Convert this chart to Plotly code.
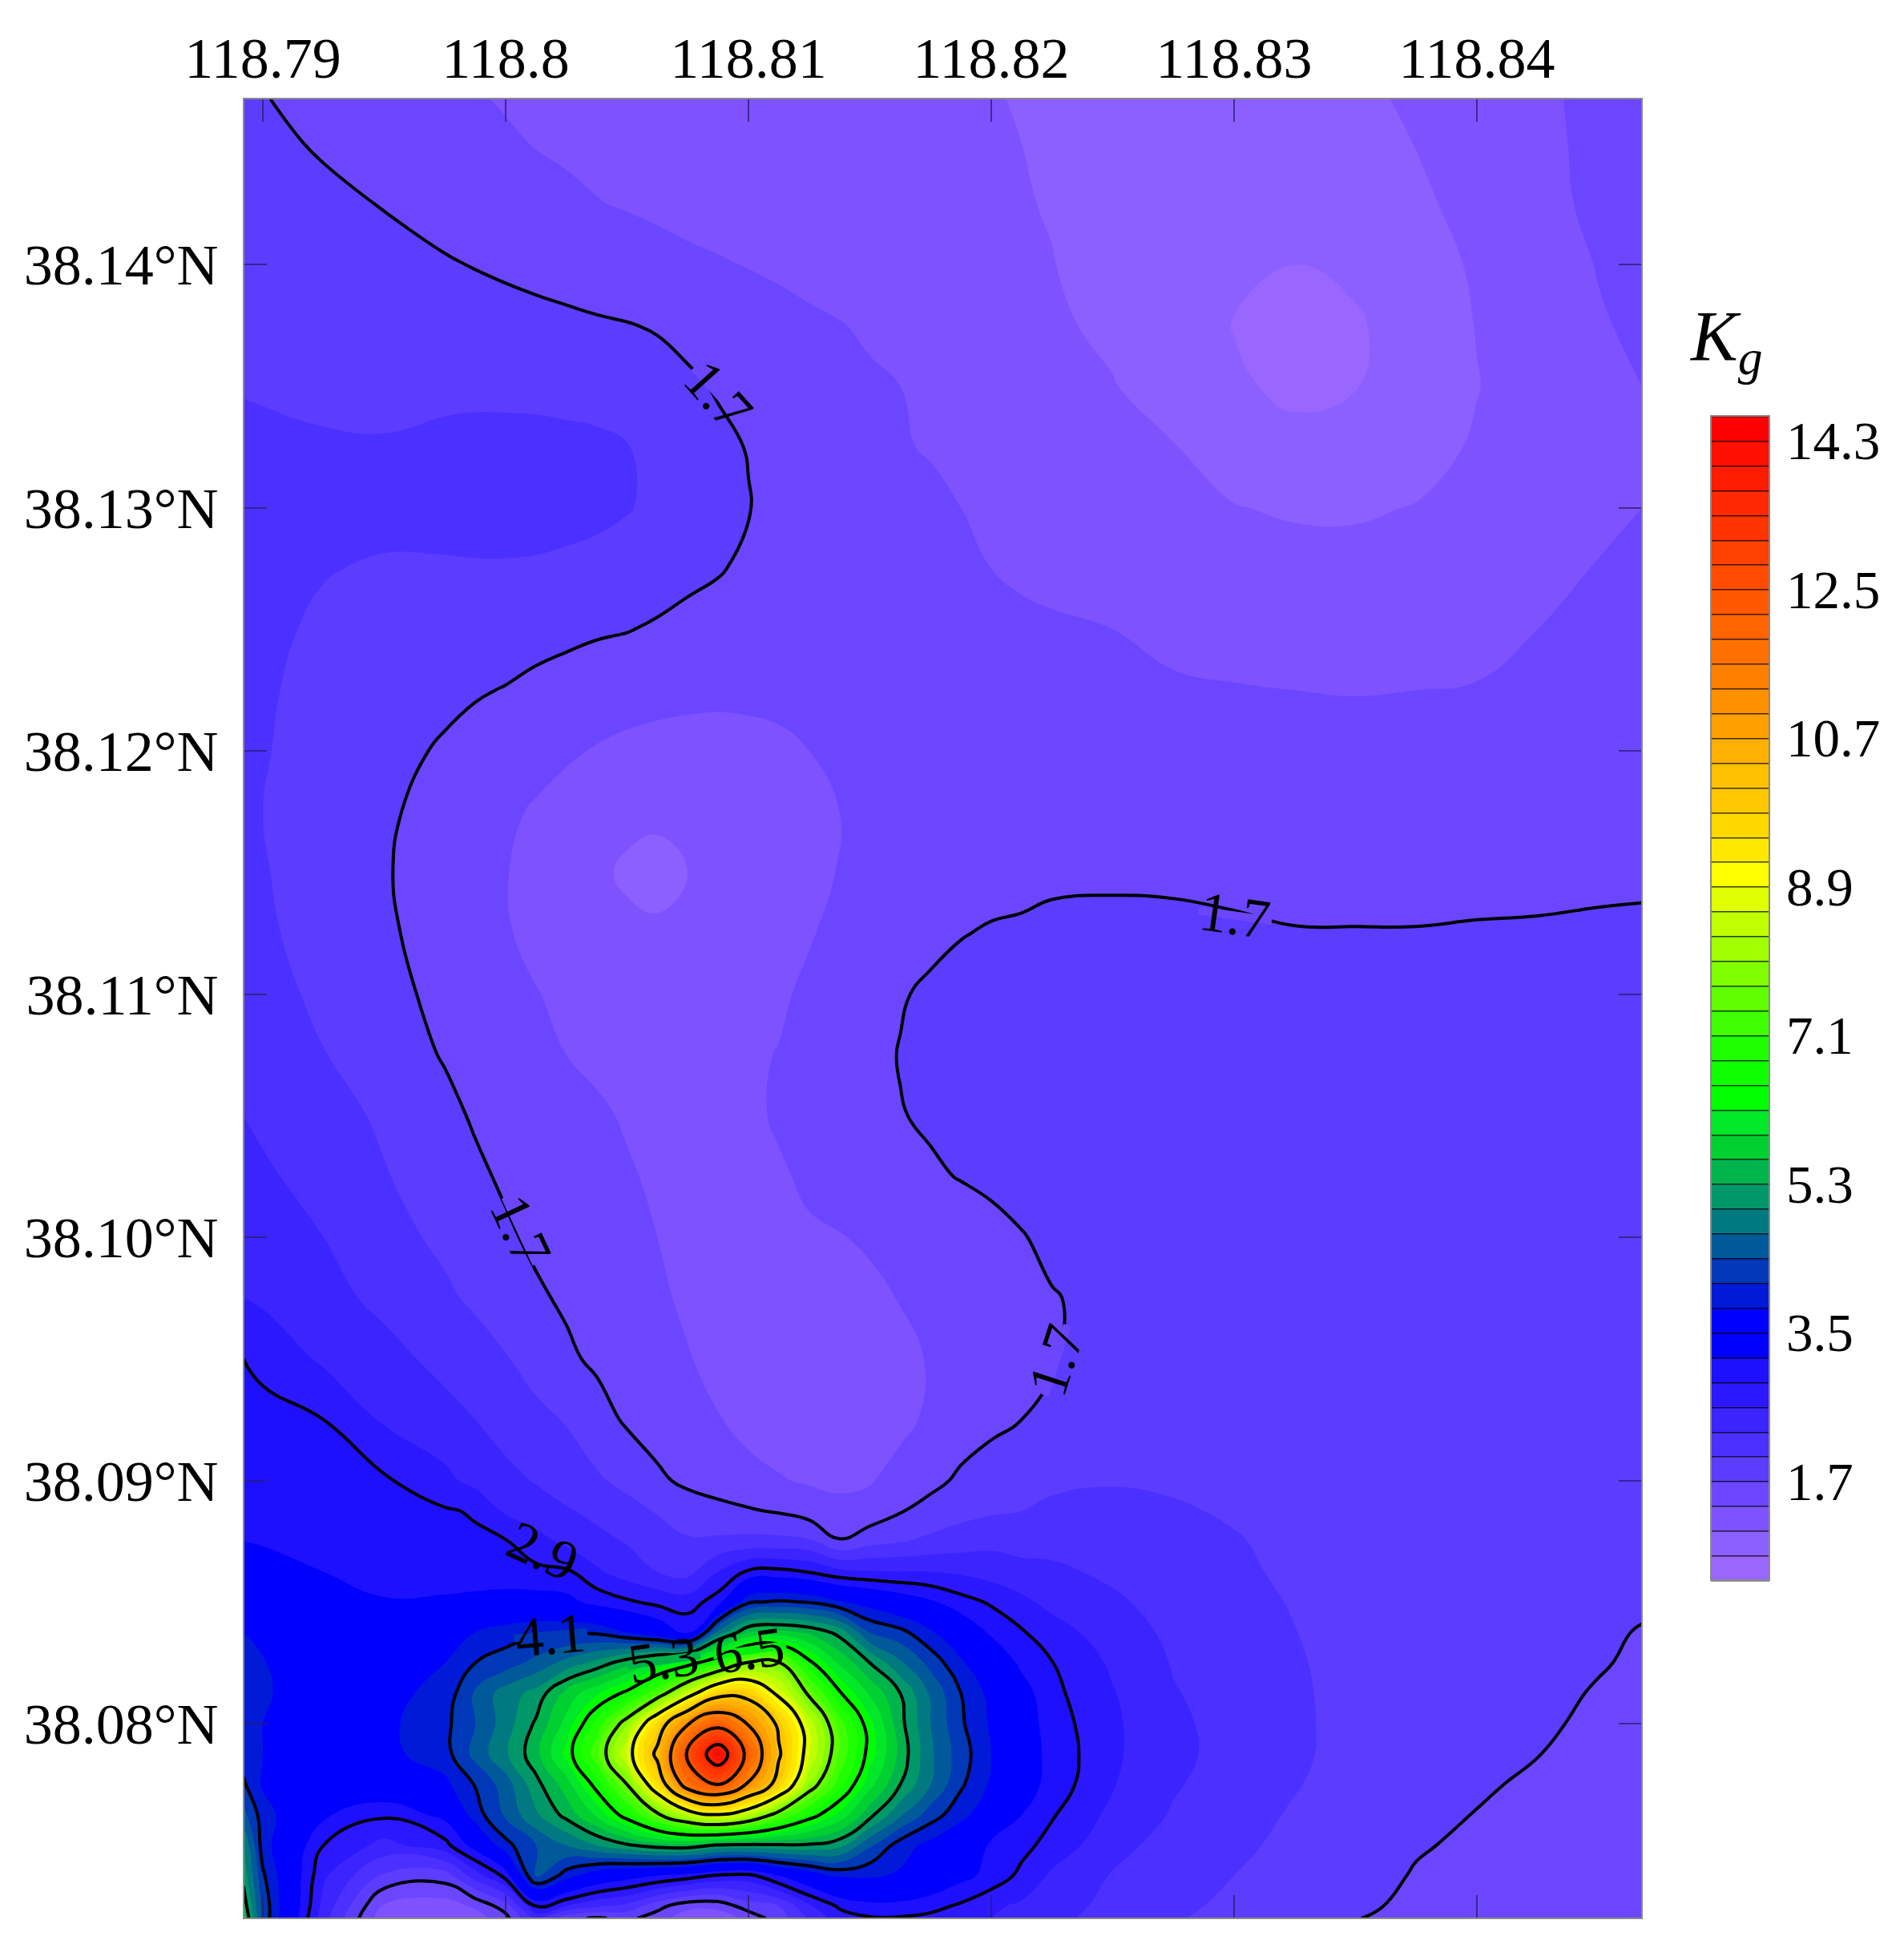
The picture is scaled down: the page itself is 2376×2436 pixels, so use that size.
import math
import plotly.graph_objects as go

W, H = 2376, 2436
FONT = "Liberation Serif"

lon_ticks = [118.79, 118.80, 118.81, 118.82, 118.83, 118.84]
lon_labels = ["118.79", "118.8", "118.81", "118.82", "118.83", "118.84"]
lat_ticks = [38.14, 38.13, 38.12, 38.11, 38.10, 38.09, 38.08]
lat_labels = ["38.14°N", "38.13°N", "38.12°N", "38.11°N", "38.10°N", "38.09°N", "38.08°N"]
bar_ticks = [14.3, 12.5, 10.7, 8.9, 7.1, 5.3, 3.5, 1.7]
bar_labels = ["14.3", "12.5", "10.7", "8.9", "7.1", "5.3", "3.5", "1.7"]

lon = [118.7892, 118.79, 118.7925, 118.795, 118.7975, 118.79875, 118.80, 118.80125, 118.8025, 118.80375,
       118.805, 118.80625, 118.8075, 118.80875, 118.81, 118.81125, 118.8125, 118.81375, 118.815, 118.81625,
       118.8175, 118.81875, 118.82, 118.82125, 118.8225, 118.825, 118.8275, 118.83, 118.8325, 118.835,
       118.8375, 118.84, 118.8425, 118.845, 118.8468]
lat = [38.1468, 38.145, 38.1425, 38.14, 38.1375, 38.135, 38.1325, 38.13, 38.1275, 38.125,
       38.1225, 38.12, 38.1175, 38.115, 38.1125, 38.11, 38.1075, 38.105, 38.1025, 38.10,
       38.0975, 38.095, 38.0925, 38.09, 38.08875, 38.0875, 38.08625, 38.085, 38.08375, 38.0825,
       38.08125, 38.08, 38.07875, 38.0775, 38.07625, 38.075, 38.07375, 38.0725, 38.072]

kg = [
 [1.73,1.71,1.63,1.55,1.47,1.42,1.38,1.35,1.33,1.31,1.29,1.27,1.26,1.24,1.23,1.21,1.2,1.18,1.16,1.15,1.13,1.12,1.11,1.09,1.07,1.05,1.03,1.02,1.03,1.06,1.13,1.26,1.37,1.44,1.5],
 [1.78,1.76,1.67,1.6,1.52,1.47,1.43,1.39,1.36,1.33,1.31,1.29,1.27,1.25,1.23,1.22,1.21,1.19,1.18,1.16,1.15,1.13,1.11,1.1,1.08,1.05,1.02,1.0,1.0,1.03,1.105,1.23,1.36,1.44,1.5],
 [1.84,1.83,1.76,1.69,1.61,1.57,1.52,1.48,1.45,1.41,1.38,1.35,1.32,1.3,1.28,1.26,1.24,1.22,1.2,1.17,1.15,1.13,1.12,1.11,1.09,1.04,0.99,0.96,0.96,0.99,1.06,1.17,1.34,1.44,1.5],
 [1.88,1.87,1.82,1.76,1.72,1.69,1.66,1.63,1.6,1.56,1.53,1.49,1.45,1.42,1.39,1.36,1.33,1.3,1.27,1.24,1.21,1.18,1.15,1.12,1.105,1.03,0.95,0.86,0.8,0.85,0.98,1.135,1.28,1.41,1.47],
 [1.93,1.92,1.88,1.85,1.83,1.81,1.79,1.77,1.75,1.73,1.71,1.68,1.63,1.58,1.53,1.48,1.44,1.41,1.37,1.33,1.29,1.25,1.21,1.17,1.13,1.06,0.92,0.79,0.72,0.77,0.92,1.11,1.26,1.38,1.44],
 [1.98,1.97,1.94,1.93,1.94,1.94,1.93,1.92,1.9,1.88,1.84,1.8,1.74,1.68,1.62,1.56,1.5,1.46,1.43,1.4,1.35,1.32,1.28,1.24,1.19,1.11,1.0,0.84,0.74,0.79,0.93,1.09,1.25,1.36,1.4],
 [2.08,2.06,2.03,2.02,2.06,2.08,2.09,2.09,2.08,2.06,2.01,1.93,1.84,1.75,1.69,1.6,1.54,1.49,1.44,1.41,1.39,1.36,1.33,1.3,1.27,1.18,1.11,0.97,0.88,0.91,1.0,1.13,1.26,1.34,1.37],
 [2.2,2.18,2.12,2.12,2.14,2.15,2.15,2.14,2.12,2.08,2.02,1.93,1.84,1.76,1.71,1.63,1.58,1.53,1.5,1.46,1.43,1.4,1.36,1.33,1.3,1.24,1.17,1.11,1.07,1.07,1.11,1.18,1.28,1.36,1.4],
 [2.2,2.15,2.02,1.96,1.96,1.97,1.97,1.96,1.93,1.9,1.86,1.82,1.77,1.72,1.65,1.6,1.57,1.53,1.5,1.47,1.45,1.42,1.4,1.37,1.34,1.29,1.24,1.21,1.19,1.18,1.2,1.24,1.32,1.41,1.46],
 [2.12,2.08,1.94,1.88,1.84,1.82,1.81,1.79,1.76,1.73,1.71,1.67,1.62,1.59,1.56,1.55,1.54,1.53,1.52,1.5,1.48,1.47,1.46,1.44,1.43,1.4,1.36,1.33,1.31,1.3,1.31,1.34,1.4,1.44,1.47],
 [2.07,2.04,1.9,1.83,1.76,1.72,1.69,1.64,1.6,1.56,1.53,1.51,1.49,1.48,1.48,1.48,1.48,1.48,1.48,1.48,1.47,1.47,1.46,1.45,1.45,1.44,1.42,1.41,1.4,1.39,1.4,1.41,1.44,1.47,1.49],
 [2.05,2.02,1.88,1.78,1.67,1.62,1.56,1.5,1.44,1.38,1.33,1.29,1.27,1.26,1.29,1.34,1.4,1.43,1.45,1.46,1.47,1.49,1.5,1.51,1.52,1.53,1.52,1.51,1.5,1.49,1.49,1.49,1.5,1.52,1.54],
 [2.03,2.0,1.84,1.74,1.6,1.52,1.45,1.37,1.29,1.24,1.17,1.15,1.17,1.2,1.24,1.29,1.35,1.4,1.45,1.48,1.51,1.54,1.56,1.57,1.58,1.59,1.59,1.58,1.56,1.55,1.54,1.55,1.57,1.59,1.61],
 [2.05,2.02,1.86,1.72,1.58,1.49,1.41,1.32,1.24,1.15,1.06,1.02,1.1,1.16,1.2,1.27,1.34,1.41,1.47,1.52,1.56,1.6,1.62,1.64,1.66,1.67,1.67,1.65,1.63,1.62,1.62,1.63,1.65,1.66,1.67],
 [2.1,2.05,1.88,1.74,1.59,1.51,1.42,1.34,1.28,1.2,1.16,1.14,1.13,1.15,1.2,1.29,1.38,1.47,1.53,1.58,1.64,1.69,1.72,1.73,1.75,1.75,1.74,1.73,1.71,1.71,1.71,1.72,1.72,1.73,1.73],
 [2.14,2.1,1.94,1.78,1.63,1.55,1.48,1.41,1.35,1.3,1.26,1.22,1.2,1.21,1.27,1.36,1.45,1.54,1.6,1.68,1.74,1.78,1.79,1.79,1.79,1.79,1.79,1.78,1.78,1.78,1.78,1.78,1.78,1.78,1.78],
 [2.22,2.17,2.01,1.84,1.68,1.6,1.53,1.46,1.4,1.36,1.32,1.27,1.25,1.28,1.36,1.41,1.49,1.56,1.63,1.71,1.75,1.77,1.79,1.8,1.8,1.8,1.8,1.8,1.79,1.79,1.78,1.78,1.78,1.78,1.78],
 [2.3,2.25,2.12,1.95,1.77,1.67,1.6,1.54,1.49,1.43,1.38,1.33,1.29,1.29,1.35,1.43,1.5,1.56,1.63,1.69,1.73,1.76,1.78,1.79,1.8,1.81,1.81,1.8,1.8,1.79,1.78,1.78,1.77,1.77,1.77],
 [2.38,2.34,2.2,2.02,1.84,1.75,1.66,1.58,1.52,1.47,1.42,1.37,1.32,1.3,1.32,1.37,1.44,1.5,1.55,1.61,1.67,1.71,1.74,1.77,1.79,1.81,1.81,1.8,1.8,1.79,1.78,1.78,1.77,1.77,1.77],
 [2.48,2.44,2.3,2.1,1.94,1.82,1.74,1.65,1.56,1.49,1.44,1.4,1.34,1.3,1.3,1.33,1.37,1.39,1.43,1.47,1.52,1.58,1.64,1.69,1.74,1.78,1.8,1.8,1.8,1.79,1.78,1.78,1.77,1.77,1.77],
 [2.6,2.55,2.38,2.24,2.05,1.95,1.83,1.74,1.66,1.56,1.48,1.43,1.37,1.33,1.28,1.25,1.27,1.3,1.35,1.41,1.47,1.53,1.58,1.63,1.69,1.75,1.78,1.79,1.79,1.79,1.78,1.78,1.77,1.77,1.77],
 [2.9,2.82,2.55,2.38,2.23,2.13,2.02,1.88,1.75,1.65,1.55,1.46,1.41,1.35,1.3,1.25,1.22,1.22,1.26,1.33,1.42,1.5,1.56,1.62,1.69,1.76,1.79,1.79,1.79,1.79,1.78,1.77,1.77,1.76,1.76],
 [3.03,3.0,2.9,2.56,2.38,2.3,2.18,2.08,1.98,1.82,1.66,1.55,1.47,1.41,1.33,1.27,1.22,1.2,1.25,1.33,1.45,1.55,1.63,1.7,1.77,1.83,1.85,1.83,1.82,1.8,1.78,1.77,1.76,1.76,1.76],
 [3.08,3.05,3.0,2.94,2.68,2.5,2.38,2.28,2.15,2.04,1.92,1.76,1.63,1.54,1.47,1.42,1.37,1.34,1.38,1.5,1.62,1.75,1.84,1.9,1.95,1.98,1.96,1.92,1.86,1.82,1.79,1.77,1.76,1.76,1.76],
 [3.15,3.12,3.05,3.0,2.93,2.87,2.55,2.42,2.33,2.23,2.1,1.98,1.87,1.8,1.73,1.67,1.55,1.48,1.5,1.68,1.8,1.9,1.96,2.0,2.05,2.08,2.03,1.97,1.89,1.84,1.8,1.77,1.75,1.75,1.75],
 [3.2,3.17,3.1,3.05,3.0,2.95,2.92,2.72,2.52,2.38,2.28,2.12,2.03,2.05,2.08,2.08,2.05,1.72,1.9,1.98,2.07,2.15,2.22,2.22,2.2,2.12,2.06,2.02,1.93,1.84,1.8,1.77,1.75,1.74,1.74],
 [3.4,3.35,3.2,3.1,3.05,3.02,3.0,2.97,2.95,2.65,2.45,2.3,2.2,2.6,2.95,2.98,2.88,2.68,2.62,2.6,2.6,2.55,2.47,2.37,2.36,2.24,2.14,2.04,1.96,1.86,1.81,1.77,1.74,1.73,1.74],
 [3.5,3.47,3.33,3.22,3.25,3.3,3.35,3.35,3.3,3.1,2.95,2.82,2.75,3.05,4.05,4.15,4.08,3.85,3.65,3.45,3.25,3.02,2.86,2.68,2.5,2.35,2.18,2.07,1.985,1.9,1.81,1.76,1.73,1.71,1.72],
 [3.8,3.72,3.5,3.45,3.6,3.8,3.95,4.05,4.08,4.05,3.8,3.5,3.15,4.8,5.6,5.7,5.55,5.2,4.4,4.2,3.85,3.5,3.15,2.93,2.75,2.42,2.25,2.09,2.005,1.91,1.84,1.79,1.75,1.723,1.692],
 [3.9,3.82,3.55,3.55,3.8,4.1,4.25,4.5,4.8,5.1,5.5,5.95,6.3,6.9,7.75,7.75,6.6,5.85,5.3,4.75,4.3,3.85,3.5,3.13,2.91,2.55,2.28,2.13,2.02,1.93,1.83,1.79,1.75,1.71,1.68],
 [3.9,3.82,3.7,3.7,3.9,4.45,4.85,5.1,5.7,6.15,6.6,7.35,8.55,9.8,9.8,8.75,7.6,6.55,5.85,5.3,4.65,4.1,3.7,3.35,2.98,2.62,2.32,2.17,2.03,1.935,1.84,1.78,1.735,1.69,1.66],
 [3.85,3.8,3.7,3.72,4.02,4.4,4.85,5.35,6.0,6.9,7.95,9.6,11.25,12.2,11.25,9.95,8.5,7.25,6.3,5.4,4.7,4.15,3.75,3.4,3.05,2.65,2.36,2.19,2.035,1.935,1.84,1.775,1.72,1.676,1.64],
 [3.95,3.8,3.7,3.7,3.98,4.5,4.95,5.5,6.3,7.3,8.6,10.3,12.6,14.4,12.2,10.2,8.6,7.35,6.35,5.5,4.75,4.25,3.8,3.4,3.1,2.65,2.37,2.2,2.035,1.93,1.83,1.75,1.703,1.66,1.63],
 [4.15,3.75,3.5,3.55,3.72,4.12,4.55,5.2,5.75,6.65,7.7,9.45,11.8,12.5,11.2,9.75,8.0,6.95,6.0,5.3,4.7,4.15,3.75,3.4,3.07,2.62,2.33,2.16,2.015,1.9,1.79,1.72,1.675,1.635,1.6],
 [4.5,3.95,3.25,2.95,3.3,3.95,4.45,4.95,5.4,5.95,6.7,7.6,8.4,8.85,8.35,7.45,6.7,6.1,5.4,4.75,4.25,3.9,3.55,3.2,2.93,2.52,2.27,2.09,1.975,1.85,1.74,1.695,1.65,1.61,1.58],
 [5.0,3.95,2.9,2.5,2.8,3.35,4.0,4.4,4.7,5.0,5.25,5.45,5.5,5.25,5.22,5.25,5.25,5.1,4.45,3.95,3.7,3.45,3.15,3.0,2.78,2.4,2.18,2.05,1.94,1.815,1.715,1.67,1.625,1.59,1.56],
 [5.2,4.15,2.65,1.95,1.85,2.45,3.0,4.5,3.95,3.55,3.35,3.2,3.05,2.85,2.8,3.2,3.55,3.85,3.85,3.75,3.55,3.3,3.1,2.82,2.55,2.28,2.12,2.0,1.88,1.77,1.687,1.64,1.6,1.565,1.54],
 [5.5,4.3,2.5,1.35,1.25,1.45,1.85,2.9,2.6,2.35,2.2,1.8,1.5,1.5,1.85,2.0,2.55,2.95,3.1,3.1,3.0,2.85,2.65,2.55,2.42,2.22,2.05,1.95,1.83,1.73,1.665,1.62,1.585,1.55,1.53],
 [5.7,4.3,2.4,1.2,1.15,1.25,1.6,2.4,1.78,1.66,1.78,1.55,1.2,1.2,1.5,1.85,2.35,2.75,2.87,2.87,2.82,2.72,2.6,2.5,2.38,2.17,2.02,1.93,1.81,1.705,1.655,1.61,1.575,1.545,1.525],
]

colour_values = [0.5, 0.65, 0.95, 1.25, 1.55, 1.85, 2.15, 2.45, 2.75, 3.05, 3.35, 3.65, 3.95, 4.25, 4.55, 4.85, 5.15, 5.45, 5.75, 6.05, 6.35, 6.65, 6.95, 7.25, 7.55, 7.85, 8.15, 8.45, 8.75, 9.05, 9.35, 9.65, 9.95, 10.25, 10.55, 10.85, 11.15, 11.45, 11.75, 12.05, 12.35, 12.65, 12.95, 13.25, 13.55, 13.85, 14.15, 14.45, 14.6]
colour_hex = ["#9966ff", "#9966ff", "#8c60ff", "#7e52ff", "#6c46ff", "#5c3cff", "#4c30ff", "#3c24ff", "#2c18ff", "#1c10ff", "#0000ff", "#0000ff", "#001ad8", "#0038b8", "#005a9a", "#007a80", "#009868", "#00b44c", "#00d030", "#00e828", "#00ff00", "#10ff00", "#20ff00", "#40ff00", "#60ff00", "#80ff00", "#a0ff00", "#c0ff00", "#e0ff00", "#ffff00", "#ffe800", "#ffd800", "#ffc800", "#ffc000", "#ffb000", "#ffa000", "#ff9000", "#ff8000", "#ff7000", "#ff6400", "#ff5800", "#ff4c00", "#ff4000", "#ff3400", "#ff2800", "#ff1c00", "#ff1000", "#ff0000", "#ff0000"]
Z0, Z1, DZ = 0.5, 14.6, 0.3
colorscale = [[(v - Z0) / (Z1 - Z0), c] for v, c in zip(colour_values, colour_hex)]

line_texts = ["1.7", "1.7", "1.7", "1.7", "2.9", "4.1", "5.3", "6.5"]
line_lons = [118.80877, 118.83005, 118.80062, 118.82267, 118.80154, 118.80185, 118.80651, 118.81005]
line_lats = [38.13463, 38.11323, 38.10028, 38.09495, 38.08712, 38.08364, 38.08261, 38.08302]
line_angles = [48, 8, 65, -72, 24, -5, -8, -8]
line_masks = ["#6c46ff", "#6c46ff", "#6c46ff", "#6c46ff", "#2c18ff", "#0038b8", "#00b44c", "#00f010"]

fig = go.Figure()
fig.add_trace(go.Contour(
    x=lon, y=lat, z=kg, zmin=Z0, zmax=Z1, colorscale=colorscale, showscale=False, autocontour=False,
    contours=dict(start=Z0, end=Z1, size=DZ, coloring="fill", showlines=False),
    line=dict(width=0, smoothing=1.3), hoverinfo="skip"))
fig.add_trace(go.Contour(
    x=lon, y=lat, z=kg, showscale=False, autocontour=False,
    contours=dict(start=1.7, end=13.7, size=1.2, coloring="none", showlines=True),
    line=dict(color="#000000", width=4, smoothing=1.3), hoverinfo="skip"))
# legend bar: a contour trace whose data sit outside the axis ranges, only its colorbar shows
fig.add_trace(go.Contour(
    x=[118.0, 118.1], y=[37.0, 37.1], z=[[Z0, Z1], [Z1, Z0]], zmin=Z0, zmax=Z1, colorscale=colorscale,
    autocontour=False, contours=dict(start=Z0, end=Z1, size=DZ, coloring="fill", showlines=True),
    line=dict(color="rgba(0,0,0,0.75)", width=1.5), hoverinfo="skip",
    colorbar=dict(
        x=2135 / W, xanchor="left", y=1 - 519 / H, yanchor="top", xpad=0, ypad=0,
        thickness=73, thicknessmode="pixels", len=1453, lenmode="pixels",
        outlinecolor="#8a8a8a", outlinewidth=2, tickmode="array", tickvals=bar_ticks, ticktext=bar_labels,
        ticks="outside", ticklen=7, tickcolor="rgba(0,0,0,0)", tickfont=dict(family=FONT, size=67, color="#000"))))

annotations = []
shapes = []
for t, x, y, a, m in zip(line_texts, line_lons, line_lats, line_angles, line_masks):
    dx = 46 * math.cos(math.radians(a))
    dy = 46 * math.sin(math.radians(a))
    shapes.append(dict(type="line", xref="x", yref="y", xsizemode="pixel", ysizemode="pixel", xanchor=x, yanchor=y,
                       x0=-dx, x1=dx, y0=dy, y1=-dy, line=dict(color=m, width=10), layer="above"))
    annotations.append(dict(x=x, y=y, xref="x", yref="y", text=t, showarrow=False, textangle=a,
                            font=dict(family=FONT, size=70, color="#000")))
annotations.append(dict(x=2106 / W, y=1 - 426 / H, xref="paper", yref="paper", xanchor="left", yanchor="middle",
                        text="<i>K<sub>g</sub></i>", showarrow=False, font=dict(family=FONT, size=88, color="#000")))

axis_common = dict(ticks="inside", ticklen=28, tickwidth=2, tickcolor="rgba(40,30,110,0.75)", showgrid=False,
                   zeroline=False, showline=True, linecolor="#8a8a8a", linewidth=2, mirror="ticks", automargin=False,
                   tickfont=dict(family=FONT, size=72, color="#000"))
fig.update_layout(
    width=W, height=H, autosize=False, margin=dict(l=0, r=0, t=0, b=0, autoexpand=False),
    paper_bgcolor="#fff", plot_bgcolor="#fff",
    showlegend=False, annotations=annotations, shapes=shapes,
    xaxis=dict(domain=[305 / W, 2048 / W], range=[118.78924, 118.84677], side="top", tickmode="array",
               tickvals=lon_ticks, ticktext=lon_labels, ticklabelstandoff=-4, **axis_common),
    yaxis=dict(domain=[1 - 2393 / H, 1 - 124 / H], range=[38.07203, 38.14679], tickmode="array",
               tickvals=lat_ticks, ticktext=lat_labels, ticklabelstandoff=16, **axis_common))
fig.write_html("out.html", config=dict(displayModeBar=False), post_script="document.body.style.margin='0';")
